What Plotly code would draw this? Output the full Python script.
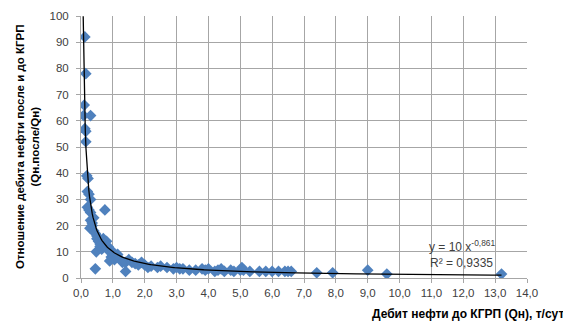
import numpy as np
import plotly.graph_objects as go

# Дебит нефти до КГРП (Qн), т/сут
qn = [0.12, 0.15, 0.10, 0.08, 0.30, 0.12, 0.15, 0.15, 0.18, 0.22,
      0.20, 0.25, 0.30, 0.20, 0.25, 0.30, 0.75, 0.30, 0.35, 0.28,
      0.40, 0.45, 0.50, 0.50, 0.55, 0.60, 0.70, 0.75, 0.80, 0.85,
      0.48, 0.45, 0.90, 0.95, 1.00, 1.05, 0.90, 1.10, 1.20, 1.30,
      1.40, 1.50, 1.40, 1.60, 1.70, 1.80, 1.90, 2.00, 2.10, 2.20,
      2.40, 2.50, 2.70, 2.90, 3.00, 3.10, 3.20, 3.40, 3.60, 3.80,
      3.90, 4.00, 4.20, 4.30, 4.40, 4.50, 4.70, 4.80, 5.00, 5.05,
      5.10, 5.30, 5.60, 5.80, 6.00, 6.20, 6.40, 6.50, 6.60, 7.40,
      7.90, 9.00, 9.60, 13.20, 0.60, 0.65, 1.00, 1.15, 0.35, 0.40]
# Отношение дебита нефти после и до КГРП
ratio = [92, 78, 66, 62, 62, 57, 56, 52, 39, 38,
         33, 32, 30, 27, 26, 25, 26, 22, 20, 19,
         18, 17, 16, 15, 14, 13, 15, 14, 14, 12,
         10, 3.5, 10, 8, 9, 7, 6.5, 8, 7.5, 6,
         6, 7, 2.5, 6, 5.5, 5, 6, 5, 4, 4.5,
         4, 4.5, 4, 3.5, 4, 3.5, 3.5, 3, 3, 3.5,
         3, 3.5, 2.5, 3, 3.5, 2.5, 3, 2.5, 3, 4,
         3, 2.5, 2.5, 2.5, 2.5, 2.5, 2.5, 2.5, 2.5, 2,
         2, 3, 1.5, 1.5, 12, 11, 10, 9, 21, 23]

# степенная линия тренда y = a * x^b
a_coef = 10
b_coef = -0.861

x_tr = np.linspace(0.069, 13.2, 600)
y_tr = a_coef * x_tr ** b_coef

font = "Liberation Sans"
gray = "#a6a6a6"

fig = go.Figure()
fig.add_trace(go.Scatter(
    x=qn, y=ratio, mode="markers",
    marker=dict(symbol="diamond", size=9, color="#4f81bd"),
))
fig.add_trace(go.Scatter(
    x=x_tr, y=y_tr, mode="lines",
    line=dict(color="black", width=1.3),
))

# страница имеет отступ 8px, поэтому фигура чуть меньше окна
fig.update_layout(
    width=563, height=317,
    margin=dict(l=73, r=44, t=8, b=47, autoexpand=False),
    paper_bgcolor="white", plot_bgcolor="white",
    showlegend=False,
    separators=", ",
    font=dict(family=font, size=11.5, color="#404040"),
)
fig.update_xaxes(
    range=[0, 14], dtick=1, tickformat=".1f",
    showgrid=True, gridcolor=gray, gridwidth=1,
    showline=True, linecolor=gray, linewidth=1,
    ticks="outside", ticklen=4, tickcolor=gray,
    zeroline=False,
)
fig.update_yaxes(
    range=[0, 100], dtick=10,
    showgrid=True, gridcolor=gray, gridwidth=1,
    showline=True, linecolor=gray, linewidth=1,
    ticks="outside", ticklen=4, tickcolor=gray,
    ticklabelstandoff=5,
    zeroline=False,
)

fig.add_annotation(
    x=10.85, y=12.3, xref="x", yref="y", xanchor="left",
    text="y = 10 x<sup>-0,861</sup>", showarrow=False,
    font=dict(size=12, color="#404040"),
)
fig.add_annotation(
    x=10.9, y=5.7, xref="x", yref="y", xanchor="left",
    text="R² = 0,9335", showarrow=False,
    font=dict(size=12, color="#404040"),
)
fig.add_annotation(
    x=1.0, y=0, xref="paper", yref="paper",
    xanchor="right", yanchor="top", xshift=39, yshift=-27,
    text="<b>Дебит нефти до КГРП (Qн), т/сут</b>", showarrow=False,
    font=dict(size=12, color="black"),
)
fig.add_annotation(
    x=0, y=0.5, xref="paper", yref="paper",
    xanchor="center", yanchor="middle", xshift=-54,
    text="<b>Отношение дебита нефти после и до КГРП<br>(Qн.после/Qн)</b>",
    textangle=-90, showarrow=False,
    font=dict(size=11.5, color="black"),
)

fig.write_html("out.html")
